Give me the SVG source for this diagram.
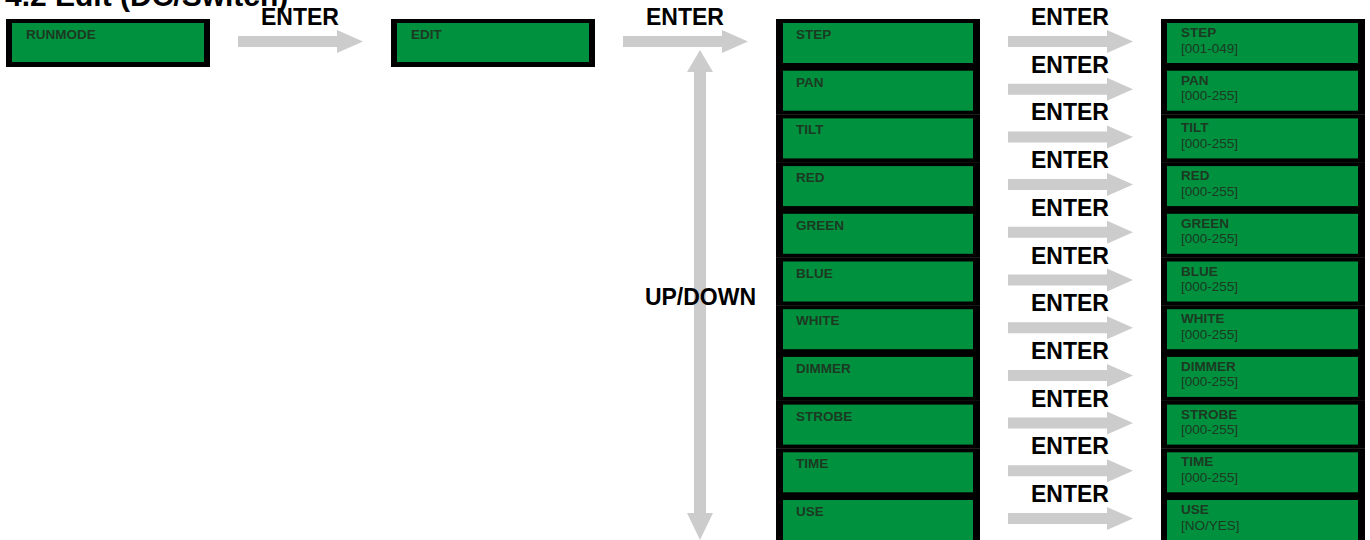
<svg xmlns="http://www.w3.org/2000/svg" xmlns:xlink="http://www.w3.org/1999/xlink" width="1370" height="540" viewBox="0 0 1370 540">
<style>
.frame{fill:#000}
.lcd{fill:#00913f}
.lbl{font-family:"Liberation Sans",Arial,sans-serif;font-size:13.5px;font-weight:bold;fill:#1c3a22}
.rng{font-family:"Liberation Sans",Arial,sans-serif;font-size:13.5px;fill:#1c3a22}
.key{font-family:"Liberation Sans",Arial,sans-serif;font-size:23px;font-weight:bold;fill:#000;text-anchor:middle}
.arrow{fill:#cccccc}
.title{font-family:"Liberation Sans",Arial,sans-serif;font-size:30px;font-weight:bold;fill:#000}
</style>
<defs>
<path id="harrow" d="M0,-5.5 H99 V-11.5 L125,0 L99,11.5 V5.5 H0 Z"/>
</defs>
<rect width="1370" height="540" fill="#fff"/>
<text class="title" x="5" y="6">4.2 Edit (DC/Switch)</text>

<g id="runmode"><rect class="frame" x="6" y="19" width="204" height="48"/><rect class="lcd" x="12" y="23" width="192" height="39"/><text class="lbl" x="26" y="39">RUNMODE</text></g>
<g id="edit"><rect class="frame" x="391" y="19" width="204" height="48"/><rect class="lcd" x="397" y="23" width="192" height="39"/><text class="lbl" x="411" y="39">EDIT</text></g>

<g id="menu-step"><rect class="frame" x="776" y="19" width="204" height="48"/><rect class="lcd" x="783" y="23" width="190" height="40"/><text class="lbl" x="796" y="39">STEP</text></g>
<g id="menu-pan"><rect class="frame" x="776" y="66.7" width="204" height="48"/><rect class="lcd" x="783" y="70.7" width="190" height="40"/><text class="lbl" x="796" y="86.7">PAN</text></g>
<g id="menu-tilt"><rect class="frame" x="776" y="114.4" width="204" height="48"/><rect class="lcd" x="783" y="118.4" width="190" height="40"/><text class="lbl" x="796" y="134.4">TILT</text></g>
<g id="menu-red"><rect class="frame" x="776" y="162.1" width="204" height="48"/><rect class="lcd" x="783" y="166.1" width="190" height="40"/><text class="lbl" x="796" y="182.1">RED</text></g>
<g id="menu-green"><rect class="frame" x="776" y="209.8" width="204" height="48"/><rect class="lcd" x="783" y="213.8" width="190" height="40"/><text class="lbl" x="796" y="229.8">GREEN</text></g>
<g id="menu-blue"><rect class="frame" x="776" y="257.5" width="204" height="48"/><rect class="lcd" x="783" y="261.5" width="190" height="40"/><text class="lbl" x="796" y="277.5">BLUE</text></g>
<g id="menu-white"><rect class="frame" x="776" y="305.2" width="204" height="48"/><rect class="lcd" x="783" y="309.2" width="190" height="40"/><text class="lbl" x="796" y="325.2">WHITE</text></g>
<g id="menu-dimmer"><rect class="frame" x="776" y="352.9" width="204" height="48"/><rect class="lcd" x="783" y="356.9" width="190" height="40"/><text class="lbl" x="796" y="372.9">DIMMER</text></g>
<g id="menu-strobe"><rect class="frame" x="776" y="400.6" width="204" height="48"/><rect class="lcd" x="783" y="404.6" width="190" height="40"/><text class="lbl" x="796" y="420.6">STROBE</text></g>
<g id="menu-time"><rect class="frame" x="776" y="448.3" width="204" height="48"/><rect class="lcd" x="783" y="452.3" width="190" height="40"/><text class="lbl" x="796" y="468.3">TIME</text></g>
<g id="menu-use"><rect class="frame" x="776" y="496" width="204" height="48"/><rect class="lcd" x="783" y="500" width="190" height="40"/><text class="lbl" x="796" y="516">USE</text></g>

<g id="val-step"><rect class="frame" x="1161" y="19" width="204" height="48"/><rect class="lcd" x="1167" y="23" width="191" height="40"/><text class="lbl" x="1181" y="37">STEP</text><text class="rng" x="1181" y="52.5">[001-049]</text></g>
<g id="val-pan"><rect class="frame" x="1161" y="66.7" width="204" height="48"/><rect class="lcd" x="1167" y="70.7" width="191" height="40"/><text class="lbl" x="1181" y="84.7">PAN</text><text class="rng" x="1181" y="100.2">[000-255]</text></g>
<g id="val-tilt"><rect class="frame" x="1161" y="114.4" width="204" height="48"/><rect class="lcd" x="1167" y="118.4" width="191" height="40"/><text class="lbl" x="1181" y="132.4">TILT</text><text class="rng" x="1181" y="147.9">[000-255]</text></g>
<g id="val-red"><rect class="frame" x="1161" y="162.1" width="204" height="48"/><rect class="lcd" x="1167" y="166.1" width="191" height="40"/><text class="lbl" x="1181" y="180.1">RED</text><text class="rng" x="1181" y="195.6">[000-255]</text></g>
<g id="val-green"><rect class="frame" x="1161" y="209.8" width="204" height="48"/><rect class="lcd" x="1167" y="213.8" width="191" height="40"/><text class="lbl" x="1181" y="227.8">GREEN</text><text class="rng" x="1181" y="243.3">[000-255]</text></g>
<g id="val-blue"><rect class="frame" x="1161" y="257.5" width="204" height="48"/><rect class="lcd" x="1167" y="261.5" width="191" height="40"/><text class="lbl" x="1181" y="275.5">BLUE</text><text class="rng" x="1181" y="291">[000-255]</text></g>
<g id="val-white"><rect class="frame" x="1161" y="305.2" width="204" height="48"/><rect class="lcd" x="1167" y="309.2" width="191" height="40"/><text class="lbl" x="1181" y="323.2">WHITE</text><text class="rng" x="1181" y="338.7">[000-255]</text></g>
<g id="val-dimmer"><rect class="frame" x="1161" y="352.9" width="204" height="48"/><rect class="lcd" x="1167" y="356.9" width="191" height="40"/><text class="lbl" x="1181" y="370.9">DIMMER</text><text class="rng" x="1181" y="386.4">[000-255]</text></g>
<g id="val-strobe"><rect class="frame" x="1161" y="400.6" width="204" height="48"/><rect class="lcd" x="1167" y="404.6" width="191" height="40"/><text class="lbl" x="1181" y="418.6">STROBE</text><text class="rng" x="1181" y="434.1">[000-255]</text></g>
<g id="val-time"><rect class="frame" x="1161" y="448.3" width="204" height="48"/><rect class="lcd" x="1167" y="452.3" width="191" height="40"/><text class="lbl" x="1181" y="466.3">TIME</text><text class="rng" x="1181" y="481.8">[000-255]</text></g>
<g id="val-use"><rect class="frame" x="1161" y="496" width="204" height="48"/><rect class="lcd" x="1167" y="500" width="191" height="40"/><text class="lbl" x="1181" y="514">USE</text><text class="rng" x="1181" y="529.5">[NO/YES]</text></g>

<g id="connectors">
<use href="#harrow" class="arrow" x="238" y="41.5"/>
<use href="#harrow" class="arrow" x="623" y="41.5"/>
<path class="arrow" d="M694,72 V513 H687 L700,540 L713,513 H706 V72 H713 L700,50 L687,72 Z"/>
<use href="#harrow" class="arrow" x="1008" y="41.5"/>
<use href="#harrow" class="arrow" x="1008" y="89.2"/>
<use href="#harrow" class="arrow" x="1008" y="136.9"/>
<use href="#harrow" class="arrow" x="1008" y="184.6"/>
<use href="#harrow" class="arrow" x="1008" y="232.3"/>
<use href="#harrow" class="arrow" x="1008" y="280"/>
<use href="#harrow" class="arrow" x="1008" y="327.7"/>
<use href="#harrow" class="arrow" x="1008" y="375.4"/>
<use href="#harrow" class="arrow" x="1008" y="423.1"/>
<use href="#harrow" class="arrow" x="1008" y="470.8"/>
<use href="#harrow" class="arrow" x="1008" y="518.5"/>
<text class="key" x="300" y="25">ENTER</text>
<text class="key" x="685" y="25">ENTER</text>
<text class="key" x="700.5" y="305">UP/DOWN</text>
<text class="key" x="1070" y="25">ENTER</text>
<text class="key" x="1070" y="72.7">ENTER</text>
<text class="key" x="1070" y="120.4">ENTER</text>
<text class="key" x="1070" y="168.1">ENTER</text>
<text class="key" x="1070" y="215.8">ENTER</text>
<text class="key" x="1070" y="263.5">ENTER</text>
<text class="key" x="1070" y="311.2">ENTER</text>
<text class="key" x="1070" y="358.9">ENTER</text>
<text class="key" x="1070" y="406.6">ENTER</text>
<text class="key" x="1070" y="454.3">ENTER</text>
<text class="key" x="1070" y="502">ENTER</text>
</g>
</svg>
